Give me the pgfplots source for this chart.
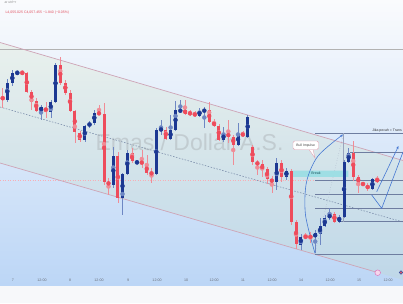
\documentclass[border=0pt]{standalone}
\usepackage{pgfplots}
\usepackage{pgfplotstable}
\pgfplotsset{compat=1.18}
\usepackage{fontspec}
\setmainfont{Liberation Sans}
\usetikzlibrary{arrows.meta}
\definecolor{pagebg}{RGB}{247,248,250}
\definecolor{bgtop}{RGB}{250,251,253}
\definecolor{bgmid}{RGB}{232,241,252}
\definecolor{bgbot}{RGB}{188,214,246}
\definecolor{chfill}{RGB}{200,220,165}
\definecolor{chline}{RGB}{206,164,182}
\definecolor{candR}{RGB}{238,76,92}
\definecolor{candB}{RGB}{28,56,146}
\definecolor{wickR}{RGB}{240,140,150}
\definecolor{wickB}{RGB}{110,135,195}
\definecolor{fib}{RGB}{110,125,160}
\definecolor{arrowb}{RGB}{70,120,210}
\definecolor{breakc}{RGB}{150,222,228}
\definecolor{midl}{RGB}{120,138,168}
\definecolor{lbl}{RGB}{105,110,120}
\tikzset{tl/.style={font=\fontsize{3.6}{4}\selectfont, text=lbl}}

% candles: x, open, close, high, low (chart units, larger = lower on screen)
\pgfplotstableread{
x o c h l
2.7 97.5 99 88 108
22.3 72.5 73.5 70 75
26.8 73 91.5 72 93
31.5 91.5 101.5 90 110
36.2 101 111 98 112
45.8 107.5 111.5 102 118
60.3 65 83 57 85
65.3 83 92.5 80 95
70 92.5 111 90 112
74.8 111 131.5 110 143
79.8 132.5 139.5 131 142
99 112.7 114 105 115
104 114 181.7 103 185
108.5 181.7 185 178 195
117.8 156 197.7 152 203
132 153.3 161 148 163
141.8 161 164.3 150 168
146.8 164.3 173.3 155 175
151.5 172.3 174.3 168 183
165.8 129.5 139 127 140
185 110 113.5 100 115
190 112.7 114 110 116
194.8 113.5 115.5 111 117
209.2 110 122 102 123
214 122 125.7 119 127
218.8 125.7 140 124 141
228.3 133.5 136.7 120 143
233.2 136.7 145 135 165
242.8 133.5 135.7 131 137
252.5 146.7 161.7 145 165
257.4 161.7 165 160 175
262.2 164 170 160 177
267 169 179 167 184
271.8 179 182.3 176 193
281.5 163 176.7 160 182
291.2 170.5 222 169 225
296 222 244 220 249
305.6 236.2 237.5 233 239
310.4 236.2 237.3 232 243
334.4 214 221.7 212 223
353.2 153 176.7 141 181
358.2 176.7 183.3 175 193
363 183.3 184.7 182 186
367.7 184.7 189.3 183 191
377.2 179.5 180.8 176 183
}\redc

\pgfplotstableread{
x o c h l
7.3 100 83 79 102
12.3 83 73 70 86
17.3 73.5 72.5 70 75
41 111 107 105 120
50.8 111.5 101.5 100 118
55.5 101.5 65 63 103
84.8 140 126 125 142
89.5 126 123 121 128
94.3 123 112.7 110 125
113.3 185 156 147 188
122.5 197.7 174.3 173 215
127.3 174.3 153.3 150 175
137 163 161.5 160 165
156.3 174.3 129.5 128 175
161 130 129 120 135
170.6 139 130 115 140
175.5 130 110 101 131
180.3 111.5 110 100 113
199.5 115.5 111 108 117
204.3 111.3 110 107 128
223.5 140 133.5 127 142
238 145 133.5 123 146
247.7 136.7 116.5 115 138
276.7 182.3 163.3 158 190
286.4 176.7 170.5 168 180
300.8 245 236.5 234 250
315.2 237.3 233.3 230 253
320 234 226 218 245
324.8 226 218.3 215 227
329.6 218.3 214 208 220
339.2 221.7 216.7 215 223
344 216.7 161.7 160 218
348.6 161.7 153 148 163
372.4 189.3 179.3 178 190
}\bluec

\begin{document}
\begin{tikzpicture}
\begin{axis}[
  width=403pt, height=303pt, scale only axis,
  xmin=0, xmax=403, ymin=0, ymax=303, y dir=reverse,
  axis lines=none, clip=true,
]
% page background
\addplot[draw=none, fill=pagebg] coordinates {(0,0) (403,0) (403,303) (0,303) (0,0)};
% background gradient
\addplot[draw=none, top color=bgtop, middle color=bgmid, bottom color=bgbot]
  coordinates {(0,0) (403,0) (403,285) (0,285) (0,0)};
% channel fill
\addplot[draw=none, fill=chfill, fill opacity=0.17]
  coordinates {(0,42.5) (403,160.5) (403,279.9) (0,163) (0,42.5)};
% horizontal gray line
\addplot[color=black!30, line width=0.7pt] coordinates {(0,49) (403,49)};
% red dotted price line
\addplot[color=candR!45, dotted, line width=0.5pt] coordinates {(0,180.7) (403,180.7)};
% channel lines
\addplot[color=chline, line width=0.7pt] coordinates {(0,42.5) (403,160.5)};
\addplot[color=chline, line width=0.7pt] coordinates {(0,163) (378,272.6)};
\addplot[color=midl, line width=0.55pt, dash pattern=on 1.5pt off 1.5pt] coordinates {(0,107) (403,222)};
% watermark
\node[anchor=base west, font=\fontsize{23}{23}\selectfont, text={rgb,255:red,165;green,170;blue,174}, opacity=0.42] at (axis cs:92,150) {Emas / Dollar A.S.};
% fib lines
\addplot[color=fib, line width=0.55pt] coordinates {(315,133.3) (403,133.3)};
\addplot[color=fib, line width=0.55pt] coordinates {(350,152.7) (403,152.7)};
\addplot[color=fib, line width=0.55pt] coordinates {(315,180) (403,180)};
\addplot[color=fib, line width=0.55pt] coordinates {(315,194) (403,194)};
\addplot[color=fib, line width=0.55pt] coordinates {(315,208.3) (403,208.3)};
\addplot[color=fib, line width=0.55pt] coordinates {(341,221.7) (403,221.7)};
\addplot[color=fib, line width=0.55pt] coordinates {(315,254) (403,254)};
\addplot[color=fib!70, line width=0.5pt] coordinates {(343.5,133.3) (343.5,222)};
\addplot[color=fib!60, line width=0.5pt, dotted] coordinates {(315,253.3) (343.5,133.3)};
% break box
\addplot[draw=none, fill=breakc, fill opacity=0.85] coordinates {(290.5,170.5) (348.3,170.5) (348.3,176.8) (290.5,176.8) (290.5,170.5)};
\node[font=\fontsize{3.6}{4}\selectfont, text={rgb,255:red,30;green,90;blue,100}] at (axis cs:316,173.6) {Break};
% candles: wicks
\addplot[only marks, mark=none, color=wickR, error bars/.cd, y dir=both, y explicit, error mark=none, error bar style={line width=0.6pt, color=wickR}]
  table[x=x, y expr={(\thisrow{h}+\thisrow{l})/2}, y error expr={(\thisrow{l}-\thisrow{h})/2}] {\redc};
\addplot[only marks, mark=none, color=wickB, error bars/.cd, y dir=both, y explicit, error mark=none, error bar style={line width=0.6pt, color=wickB}]
  table[x=x, y expr={(\thisrow{h}+\thisrow{l})/2}, y error expr={(\thisrow{l}-\thisrow{h})/2}] {\bluec};
% candles: bodies
\addplot[only marks, mark=none, color=candR, error bars/.cd, y dir=both, y explicit, error mark=none, error bar style={line width=3pt, color=candR}]
  table[x=x, y expr={(\thisrow{o}+\thisrow{c})/2}, y error expr={max(abs(\thisrow{c}-\thisrow{o})/2,0.6)}] {\redc};
\addplot[only marks, mark=none, color=candB, error bars/.cd, y dir=both, y explicit, error mark=none, error bar style={line width=3pt, color=candB}]
  table[x=x, y expr={(\thisrow{o}+\thisrow{c})/2}, y error expr={max(abs(\thisrow{c}-\thisrow{o})/2,0.6)}] {\bluec};
% blue arc and zigzag
\addplot[color=arrowb, line width=0.6pt, smooth, -{Stealth[length=3pt,width=2.5pt]}] coordinates {(315,253.3) (305.5,215) (306.5,182) (318,156) (343,134.5)};
\addplot[color=arrowb, line width=0.6pt] coordinates {(371.7,195) (381.7,208.3) (403,152)};
\addplot[color=arrowb, line width=0.6pt, -{Stealth[length=3pt,width=2.5pt]}] coordinates {(376.7,191.7) (398.5,146)};
% Bull Impulse callout
\addplot[fill=white, draw={rgb,255:red,225;green,165;blue,180}, line width=0.4pt] coordinates {(309,149.5) (315,158) (313,149.5)};
\draw[fill=white, draw={rgb,255:red,225;green,165;blue,180}, line width=0.4pt, rounded corners=1.5pt] (axis cs:293,141) rectangle (axis cs:318.5,149.5);
\node[font=\fontsize{3.4}{4}\selectfont, text=black!75] at (axis cs:305.7,145.3) {Bull Impulse};
% Jika pecah text
\node[anchor=base east, font=\fontsize{3.5}{4}\selectfont, text=black!80, inner sep=0.5pt] at (axis cs:402.5,131.3) {Jika pecah = Trans};
% icons on time axis
\draw[draw={rgb,255:red,220;green,120;blue,190}, fill={rgb,255:red,245;green,215;blue,235}, line width=0.5pt] (axis cs:377.7,272.7) circle[radius=2.8pt];
\draw[fill={rgb,255:red,225;green,90;blue,100}, draw={rgb,255:red,60;green,80;blue,160}, line width=0.5pt] (axis cs:401,272.5) circle[radius=1.8pt];
% top legend text
\node[anchor=base west, font=\fontsize{3.4}{4}\selectfont, text=black!45] at (axis cs:1,3) {ar utrl+r};
\node[anchor=base west, font=\fontsize{3.5}{4}\selectfont, text={rgb,255:red,225;green,80;blue,95}] at (axis cs:2,13.5) {L4,055.025\ C4,057.455\ −1.840 (−0.05\%)};
% time labels
\node[tl] at (axis cs:13,280.7) {7};
\node[tl] at (axis cs:42,280.7) {12:00};
\node[tl] at (axis cs:70,280.7) {8};
\node[tl] at (axis cs:99,280.7) {12:00};
\node[tl] at (axis cs:128,280.7) {9};
\node[tl] at (axis cs:157,280.7) {12:00};
\node[tl] at (axis cs:186,280.7) {10};
\node[tl] at (axis cs:214,280.7) {12:00};
\node[tl] at (axis cs:243,280.7) {11};
\node[tl] at (axis cs:272,280.7) {12:00};
\node[tl] at (axis cs:301,280.7) {14};
\node[tl] at (axis cs:330,280.7) {12:00};
\node[tl] at (axis cs:359,280.7) {15};
\node[tl] at (axis cs:388,280.7) {12:00};
\end{axis}
\end{tikzpicture}
\end{document}
